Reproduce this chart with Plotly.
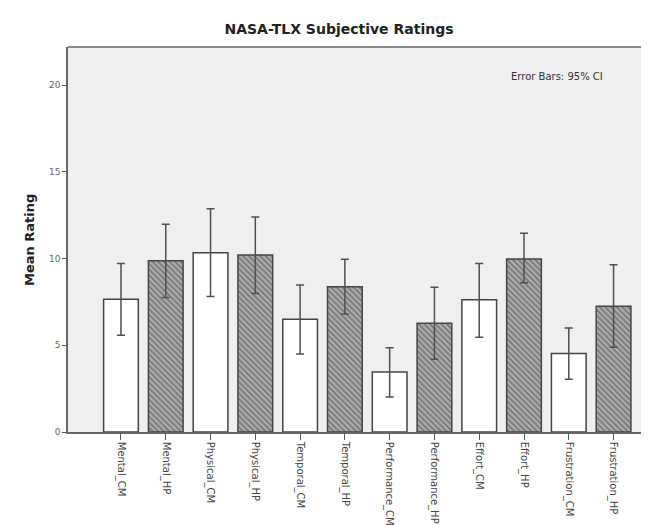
import plotly.graph_objects as go

categories = ["Mental_CM", "Mental_HP", "Physical_CM", "Physical_HP", "Temporal_CM", "Temporal_HP",
              "Performance_CM", "Performance_HP", "Effort_CM", "Effort_HP", "Frustration_CM", "Frustration_HP"]
means = [7.66, 9.88, 10.33, 10.21, 6.50, 8.37, 3.46, 6.27, 7.62, 9.98, 4.52, 7.25]
ci_upper = [9.71, 11.98, 12.87, 12.40, 8.48, 9.96, 4.86, 8.35, 9.71, 11.46, 6.00, 9.65]
ci_lower = [5.58, 7.75, 7.81, 7.98, 4.50, 6.81, 2.02, 4.19, 5.46, 8.60, 3.04, 4.89]
y_ticks = [0, 5, 10, 15, 20]

W, H = 649, 525
L, R, T, B = 60, 0, 39, 101

pos = list(range(len(categories)))
is_hp = [c.endswith("_HP") for c in categories]
colors = ["#b0b0b0" if h else "white" for h in is_hp]
shapes_pat = ["\\" if h else "" for h in is_hp]

fig = go.Figure()
fig.add_trace(go.Bar(
    x=pos, y=means, width=0.775,
    marker=dict(color=colors, line=dict(color="#454545", width=1.5),
                pattern=dict(shape=shapes_pat, fgcolor="#404040", size=4, solidity=0.5)),
    error_y=dict(type="data", symmetric=False,
                 array=[u - m for u, m in zip(ci_upper, means)],
                 arrayminus=[m - l for m, l in zip(means, ci_lower)],
                 color="#505050", thickness=1.5, width=4),
    showlegend=False,
))

fig.update_layout(
    width=W, height=H,
    margin=dict(l=L, r=R, t=T, b=B),
    paper_bgcolor="white", plot_bgcolor="#efefef",
    font=dict(family="DejaVu Sans", color="#333"),
    title=dict(text="<b>NASA-TLX Subjective Ratings</b>", x=331 / W, xanchor="center",
               y=(H - 21) / H, yanchor="middle",
               font=dict(family="DejaVu Sans", size=14, color="#222")),
    bargap=0.2,
)
fig.update_xaxes(range=[-1.183, 11.97], tickvals=pos, ticktext=categories, tickangle=90,
                 ticks="outside", ticklen=6, tickcolor="#555", tickwidth=1,
                 showline=True, linecolor="#666", linewidth=1.5,
                 showgrid=False, zeroline=False,
                 tickfont=dict(size=10, color="#444"))
fig.update_yaxes(range=[0, 22.2], tickvals=y_ticks, ticktext=[str(v) for v in y_ticks],
                 ticks="outside", ticklen=4, tickcolor="#555",
                 showline=True, linecolor="#666", linewidth=1.5,
                 showgrid=False, zeroline=False,
                 tickfont=dict(size=9, color="#666"))
fig.add_shape(type="line", xref="paper", yref="paper", x0=0, x1=1, y0=1, y1=1,
              line=dict(color="#666", width=1.5))
fig.add_annotation(text="<b>Mean Rating</b>", textangle=-90, xref="paper", yref="paper",
                   x=(21 - L) / (W - L - R), y=(H - B - 232) / (H - T - B), xanchor="center", yanchor="middle",
                   showarrow=False, font=dict(family="DejaVu Sans", size=13, color="#222"))
fig.add_annotation(text="Error Bars: 95% CI", xref="paper", yref="paper",
                   x=(549 - L) / (W - L - R), y=(H - B - 68) / (H - T - B), xanchor="center", yanchor="middle",
                   showarrow=False, font=dict(family="DejaVu Sans", size=10, color="#333"))

fig.write_html("out.html")
